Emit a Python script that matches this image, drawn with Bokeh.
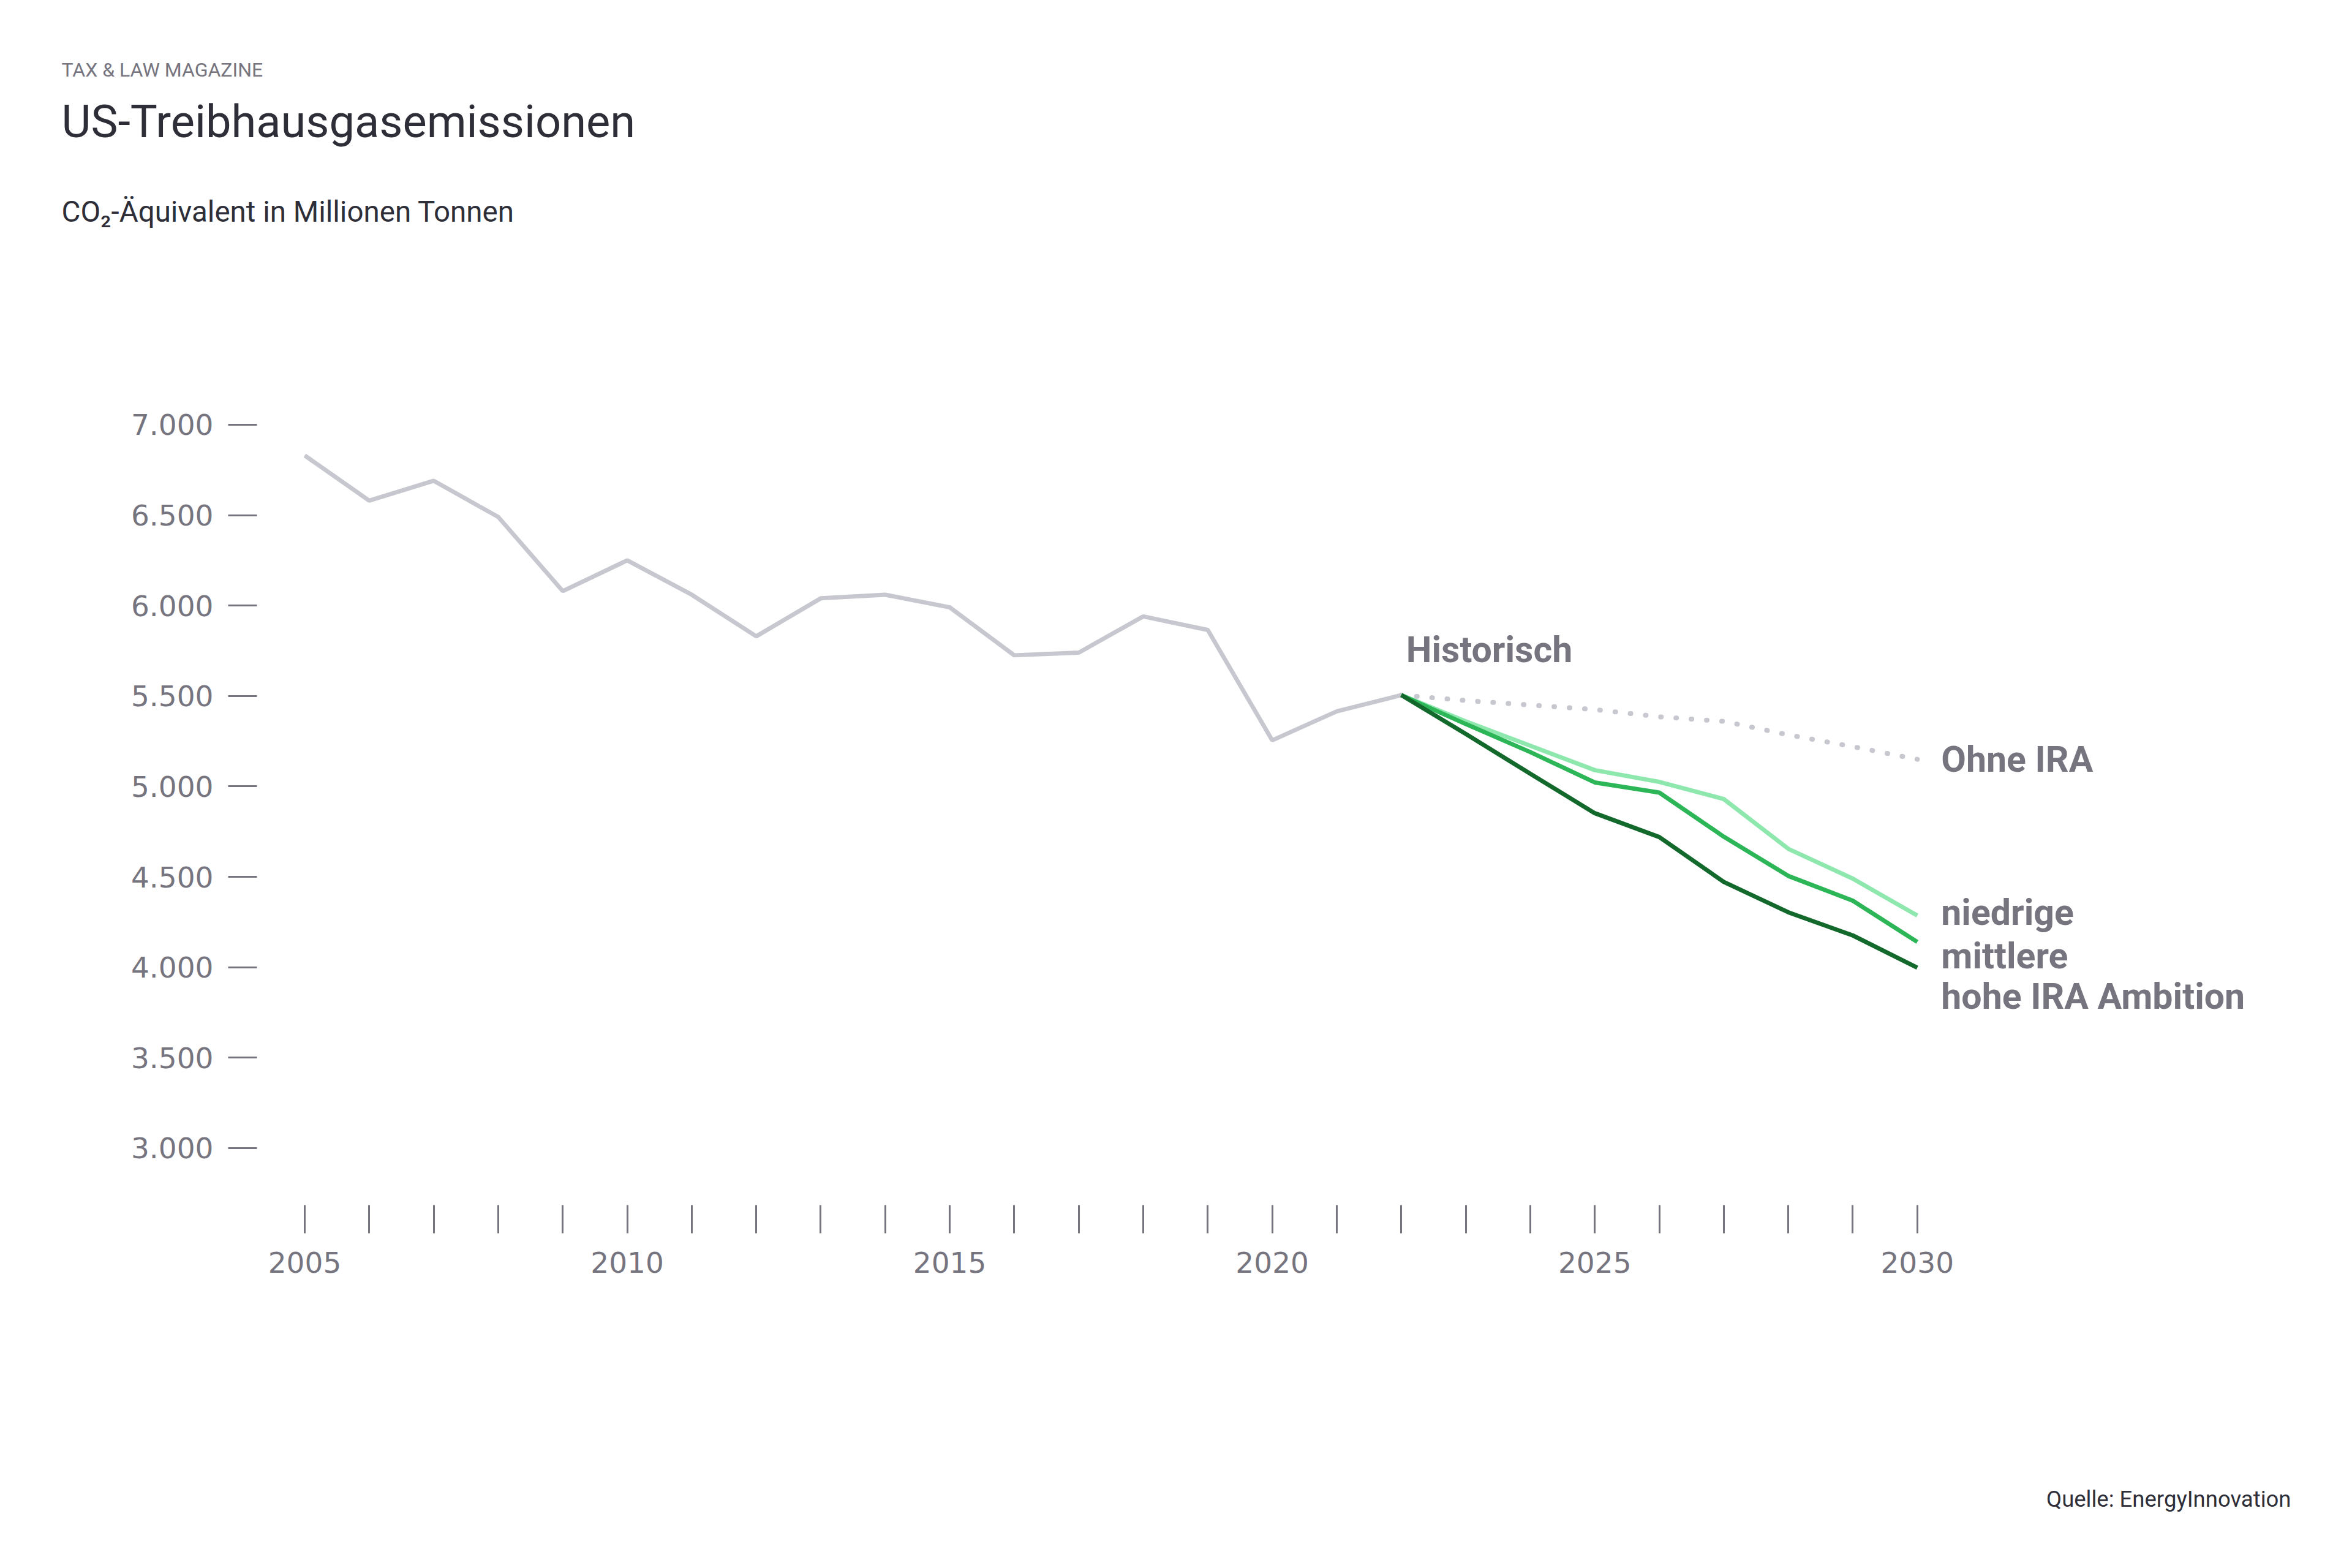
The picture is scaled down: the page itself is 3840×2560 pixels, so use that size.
from bokeh.plotting import figure
from bokeh.layouts import column
from bokeh.models import FixedTicker, ColumnDataSource, Range1d
from bokeh.embed import file_html
from bokeh.resources import INLINE
from bokeh.core.properties import value

# ---------------- data ----------------
years_hist = [2005, 2006, 2007, 2008, 2009, 2010, 2011, 2012, 2013, 2014,
              2015, 2016, 2017, 2018, 2019, 2020, 2021, 2022]
historisch = [6830, 6580, 6690, 6490, 6080, 6250, 6060, 5830, 6040, 6060,
              5990, 5725, 5740, 5940, 5865, 5255, 5415, 5505]

years_proj = [2022, 2023, 2024, 2025, 2026, 2027, 2028, 2029, 2030]
ohne_ira = [5505, 5475, 5450, 5425, 5385, 5360, 5285, 5220, 5150]
niedrige = [5505, 5360, 5225, 5090, 5025, 4930, 4655, 4490, 4286]
mittlere = [5505, 5345, 5190, 5022, 4966, 4722, 4505, 4368, 4140]
hohe = [5505, 5290, 5070, 4852, 4720, 4472, 4304, 4176, 3998]

y_ticks = [3000, 3500, 4000, 4500, 5000, 5500, 6000, 6500, 7000]
y_tick_labels = ["3.000", "3.500", "4.000", "4.500", "5.000", "5.500", "6.000", "6.500", "7.000"]
x_ticks = [2005, 2006, 2007, 2008, 2009, 2010, 2011, 2012, 2013, 2014, 2015, 2016, 2017,
           2018, 2019, 2020, 2021, 2022, 2023, 2024, 2025, 2026, 2027, 2028, 2029, 2030]
x_tick_labels = ["2005", "", "", "", "", "2010", "", "", "", "", "2015", "", "", "",
                 "", "2020", "", "", "", "", "2025", "", "", "", "", "2030"]

end_labels = ["Ohne IRA", "niedrige", "mittlere", "hohe IRA Ambition"]

kicker = "TAX & LAW MAGAZINE"
title = "US-Treibhausgasemissionen"
subtitle = "CO\u2082-\u00c4quivalent in Millionen Tonnen"
source_txt = "Quelle: EnergyInnovation"

# ---------------- styles ----------------
GRAY_TXT = "#76757f"
DARK_TXT = "#2e2e38"
HIST_COL = "#c7c7d0"
C_LOW = "#8ee8ae"
C_MID = "#2db657"
C_HIGH = "#13682b"

W = 3824
HEAD_H = 400
MAIN_H = 1900
FOOT_H = 244
LEFT = 419
FRAME_BOTTOM = 1967 - HEAD_H          # frame bottom inside main figure
BOTTOM = MAIN_H - FRAME_BOTTOM


def blank_fig(h, y0):
    f = figure(width=W, height=h, output_backend="svg", toolbar_location=None,
               x_range=Range1d(0, W), y_range=Range1d(y0 + h, y0),
               x_axis_type=None, y_axis_type=None, min_border=0)
    f.outline_line_color = None
    f.grid.visible = False
    f.background_fill_color = "white"
    f.border_fill_color = "white"
    f.frame_align = False
    return f


# ---------------- header ----------------
head = blank_fig(HEAD_H, 0)
head.text(x=[100], y=[113], text=[kicker], text_font=value("Roboto"), text_font_size="32px",
          text_color=GRAY_TXT, text_baseline="middle", text_align="left")
head.text(x=[100], y=[198], text=[title], text_font=value("Roboto"), text_font_size="74px",
          text_color=DARK_TXT, text_baseline="middle", text_align="left")
head.text(x=[100], y=[345], text=[subtitle], text_font=value("Roboto"), text_font_size="47.5px",
          text_color=DARK_TXT, text_baseline="middle", text_align="left")

# ---------------- main chart ----------------
p = figure(width=W, height=MAIN_H, output_backend="svg", toolbar_location=None,
           x_range=Range1d(2004.2593, 2036.592), y_range=Range1d(2685, 7992),
           min_border_left=LEFT, min_border_right=0, min_border_top=0,
           min_border_bottom=BOTTOM)
p.outline_line_color = None
p.grid.visible = False
p.background_fill_color = "white"
p.border_fill_color = "white"
p.frame_align = False

for ax in (p.xaxis[0], p.yaxis[0]):
    ax.axis_line_color = None
    ax.minor_tick_line_color = None
    ax.major_tick_line_color = GRAY_TXT
    ax.major_tick_line_width = 3
    ax.major_tick_in = 0
    ax.major_label_text_color = GRAY_TXT
    ax.major_label_text_font = "DejaVu Sans"
    ax.major_label_text_font_size = "47px"

p.yaxis.ticker = FixedTicker(ticks=y_ticks)
p.yaxis.major_label_overrides = {t: l for t, l in zip(y_ticks, y_tick_labels)}
p.yaxis.major_tick_out = 47
p.yaxis.major_label_standoff = 24

p.xaxis.ticker = FixedTicker(ticks=x_ticks)
p.xaxis.major_label_overrides = {t: l for t, l in zip(x_ticks, x_tick_labels)}
p.xaxis.major_tick_out = 46
p.xaxis.major_label_standoff = 30

p.line(years_hist, historisch, line_color=HIST_COL, line_width=7)
p.line(years_proj, ohne_ira, line_color=HIST_COL, line_width=8, line_dash="1 24",
       line_cap="round")
p.line(years_proj, niedrige, line_color=C_LOW, line_width=7)
p.line(years_proj, mittlere, line_color=C_MID, line_width=7)
p.line(years_proj, hohe, line_color=C_HIGH, line_width=7)

lab_src = ColumnDataSource(dict(
    x=[years_proj[-1]] * 4,
    y=[ohne_ira[-1], niedrige[-1], mittlere[-1], hohe[-1]],
    text=end_labels,
    dy=[0, -5, 23, 47],
))
p.text(x="x", y="y", text="text", source=lab_src, x_offset=39, y_offset="dy",
       text_font=value("Roboto"), text_font_style="bold", text_font_size="59px",
       text_color=GRAY_TXT, text_baseline="middle", text_align="left")

hist_src = ColumnDataSource(dict(x=[years_hist[-1]], y=[historisch[-1]], text=["Historisch"]))
p.text(x="x", y="y", text="text", source=hist_src, x_offset=8, y_offset=-74,
       text_font=value("Roboto"), text_font_style="bold", text_font_size="59px",
       text_color=GRAY_TXT, text_baseline="middle", text_align="left")

# ---------------- footer ----------------
foot = blank_fig(FOOT_H, HEAD_H + MAIN_H)
foot.text(x=[3740], y=[2447], text=[source_txt], text_font=value("Roboto"),
          text_font_size="36.5px", text_color=DARK_TXT, text_baseline="middle",
          text_align="right")

layout = column(head, p, foot, spacing=0)
open("out.html", "w").write(file_html(layout, INLINE))
